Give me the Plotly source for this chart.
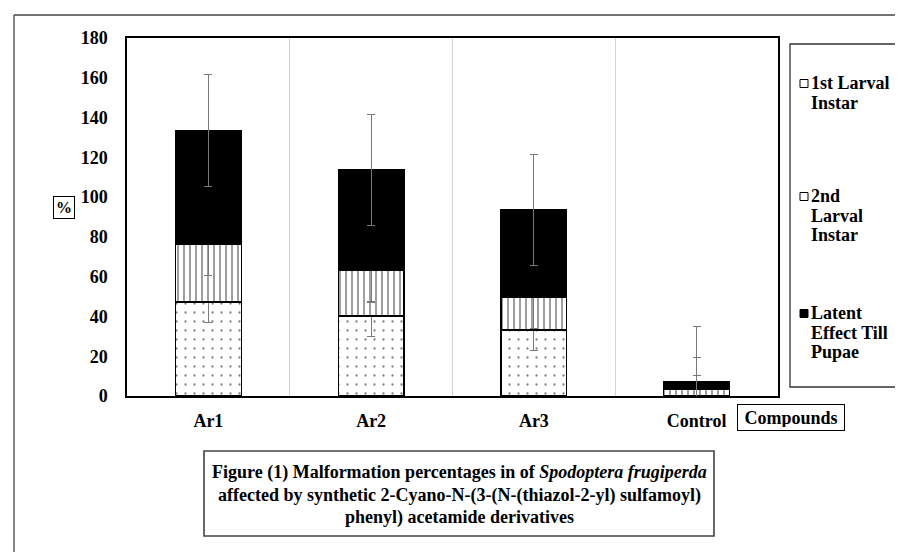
import plotly.graph_objects as go

compounds = ["Ar1", "Ar2", "Ar3", "Control"]
first_instar = [47.3, 40.2, 33.2, 0.0]
second_instar = [29.2, 23.1, 16.6, 3.3]
latent_pupae = [57.0, 50.3, 43.7, 3.7]
first_err = 10.3
second_err = 16.0
latent_err = 28.0

legend_labels = [
    ["1st Larval", "Instar"],
    ["2nd", "Larval", "Instar"],
    ["Latent", "Effect Till", "Pupae"],
]
caption_lines = [
    "Figure (1) Malformation percentages in of <i>Spodoptera frugiperda</i>",
    "affected by synthetic 2-Cyano-N-(3-(N-(thiazol-2-yl) sulfamoyl)",
    "phenyl) acetamide derivatives",
]

W, H = 903, 552
L, R, T, B = 119, 770, 30, 388
SERIF = "Liberation Serif, Times New Roman, serif"


def px(x):
    return (x - L) / (R - L)


def py(y):
    return (B - y) / (B - T)


def err(v):
    return dict(type="constant", value=v, color="#7a7a7a", thickness=1.2, width=4)


fig = go.Figure()
fig.add_bar(
    x=compounds, y=first_instar, name="1st Larval Instar", error_y=err(first_err),
    marker=dict(color="white", line=dict(color="black", width=1.3),
                pattern=dict(shape=".", size=9, solidity=0.05, fgcolor="black", bgcolor="white")),
)
fig.add_bar(
    x=compounds, y=second_instar, name="2nd Larval Instar", error_y=err(second_err),
    marker=dict(color="white", line=dict(color="black", width=1.3),
                pattern=dict(shape="|", size=6, solidity=0.25, fgcolor="black", bgcolor="white")),
)
fig.add_bar(
    x=compounds, y=latent_pupae, name="Latent Effect Till Pupae", error_y=err(latent_err),
    marker=dict(color="black", line=dict(color="black", width=1.3)),
)

shapes = [
    # legend frame
    dict(type="rect", xref="paper", yref="paper", x0=px(782), x1=px(895), y0=py(36), y1=py(379),
         line=dict(color="#333", width=1.3)),
    # caption frame
    dict(type="rect", xref="paper", yref="paper", x0=px(196), x1=px(706), y0=py(443), y1=py(528),
         line=dict(color="#444", width=1.6)),
    # outer border
    dict(type="line", xref="paper", yref="paper", x0=px(6), x1=px(6), y0=py(7), y1=py(551),
         line=dict(color="#444", width=1.3)),
    dict(type="line", xref="paper", yref="paper", x0=px(6), x1=px(901), y0=py(7), y1=py(7),
         line=dict(color="#444", width=1.3)),
    dict(type="line", xref="paper", yref="paper", x0=px(901), x1=px(901), y0=py(7), y1=py(551),
         line=dict(color="#e6e6e6", width=1)),
    dict(type="line", xref="paper", yref="paper", x0=px(6), x1=px(901), y0=py(550), y1=py(550),
         line=dict(color="#e6e6e6", width=1)),
]

annotations = []
legend_rows = [75, 188, 305]
legend_fill = ["white", "white", "black"]
for row, lines, fill in zip(legend_rows, legend_labels, legend_fill):
    shapes.append(dict(type="rect", xref="paper", yref="paper", x0=px(792), x1=px(800),
                       y0=py(row - 3.5), y1=py(row + 4.5), fillcolor=fill,
                       line=dict(color="black", width=1)))
    for i, txt in enumerate(lines):
        annotations.append(dict(text=txt, xref="paper", yref="paper", x=px(801), y=py(row + 19.5 * i),
                                xanchor="left", yanchor="middle", showarrow=False,
                                font=dict(family=SERIF, size=18, color="black", weight="bold")))

for i, txt in enumerate(caption_lines):
    annotations.append(dict(text=txt, xref="paper", yref="paper", x=px(451), y=py(464 + 23 * i),
                            xanchor="center", yanchor="middle", showarrow=False,
                            font=dict(family=SERIF, size=18, color="black", weight="bold")))

annotations.append(dict(text="%", xref="paper", yref="paper", x=px(56), y=py(199),
                        xanchor="center", yanchor="middle", showarrow=False, width=16, height=17,
                        bordercolor="black", borderwidth=1, borderpad=2,
                        font=dict(family=SERIF, size=16, color="black", weight="bold")))
annotations.append(dict(text="Compounds", xref="paper", yref="paper", x=px(783), y=py(409),
                        xanchor="center", yanchor="middle", showarrow=False, width=100, height=19,
                        bordercolor="black", borderwidth=1, borderpad=3,
                        font=dict(family=SERIF, size=18, color="black", weight="bold")))

fig.update_layout(
    width=W, height=H,
    margin=dict(l=L, r=W - R, t=T, b=H - B),
    barmode="stack", bargap=0.595,
    paper_bgcolor="white", plot_bgcolor="white",
    showlegend=False,
    shapes=shapes, annotations=annotations,
    font=dict(family=SERIF, color="black"),
)
fig.update_xaxes(
    showline=True, linecolor="black", linewidth=1.5, mirror=True,
    showgrid=True, gridcolor="#d4d4d4", gridwidth=1, tickson="boundaries",
    ticks="", ticklabelstandoff=8,
    tickfont=dict(family=SERIF, size=18, color="black", weight="bold"),
)
fig.update_yaxes(
    range=[0, 180], dtick=20, showgrid=False, zeroline=False,
    showline=True, linecolor="black", linewidth=1.5, mirror=True,
    ticks="", ticklabelstandoff=14,
    tickfont=dict(family=SERIF, size=18, color="black", weight="bold"),
)

fig.write_html("out.html")
